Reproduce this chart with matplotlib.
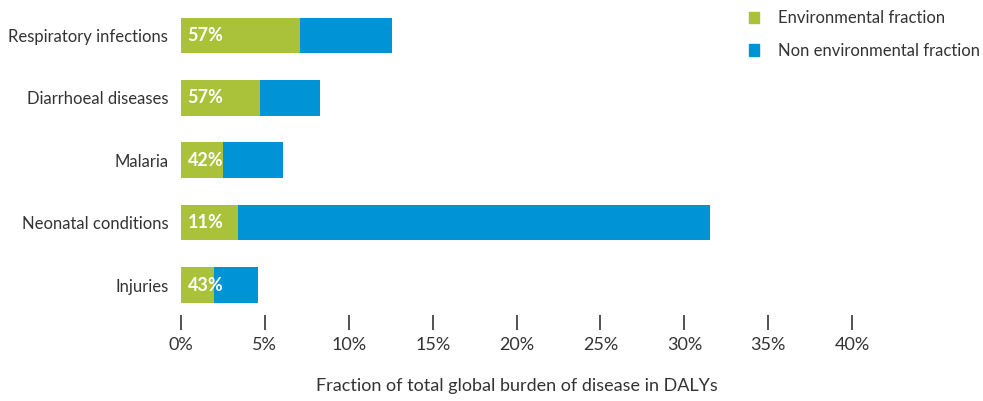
import matplotlib.pyplot as plt
from matplotlib.patches import Patch

# values (percent of global DALYs)
categories = ["Respiratory infections", "Diarrhoeal diseases", "Malaria",
              "Neonatal conditions", "Injuries"]
environmental = [7.1, 4.7, 2.5, 3.4, 2.0]
non_environmental = [5.5, 3.6, 3.6, 28.1, 2.6]
share_labels = ["57%", "57%", "42%", "11%", "43%"]
ticks = [0, 5, 10, 15, 20, 25, 30, 35, 40]

green = "#a9c23a"
blue = "#0093d6"
grey = "#333333"

plt.rcParams['font.family'] = ['Lato', 'DejaVu Sans']

fig = plt.figure(figsize=(9.83, 4.01), dpi=100)
ax = fig.add_axes([0.184, 0.2145, 0.683, 0.775])

y = list(range(len(categories)))
ax.barh(y, environmental, height=0.57, color=green, label="Environmental fraction")
ax.barh(y, non_environmental, left=environmental, height=0.57, color=blue,
        label="Non environmental fraction")

for yi, lab in zip(y, share_labels):
    ax.text(0.4, yi, lab, color="white", fontsize=13, fontweight="bold",
            va="center", ha="left")

ax.set_xlim(0, 40)
ax.set_ylim(4.48, -0.5)
ax.set_yticks(y)
ax.set_yticklabels(categories, fontsize=12, color=grey)
ax.set_xticks(ticks)
ax.set_xticklabels([f"{t}%" for t in ticks], fontsize=13, color=grey)
ax.tick_params(axis="y", length=0, pad=9)
ax.tick_params(axis="x", length=11, width=1.2, color=grey, pad=5)
for s in ax.spines.values():
    s.set_visible(False)

ax.set_xlabel("Fraction of total global burden of disease in DALYs",
              fontsize=13, color=grey, labelpad=18)

handles = [Patch(color=green), Patch(color=blue)]
fig.legend(handles, ["Environmental fraction", "Non environmental fraction"],
           loc="upper right", bbox_to_anchor=(1.012, 1.012), frameon=False,
           fontsize=12, handlelength=0.65, handleheight=0.65, handletextpad=1.1,
           labelspacing=1.0, labelcolor=grey)

fig.savefig("out.png", dpi=100)
